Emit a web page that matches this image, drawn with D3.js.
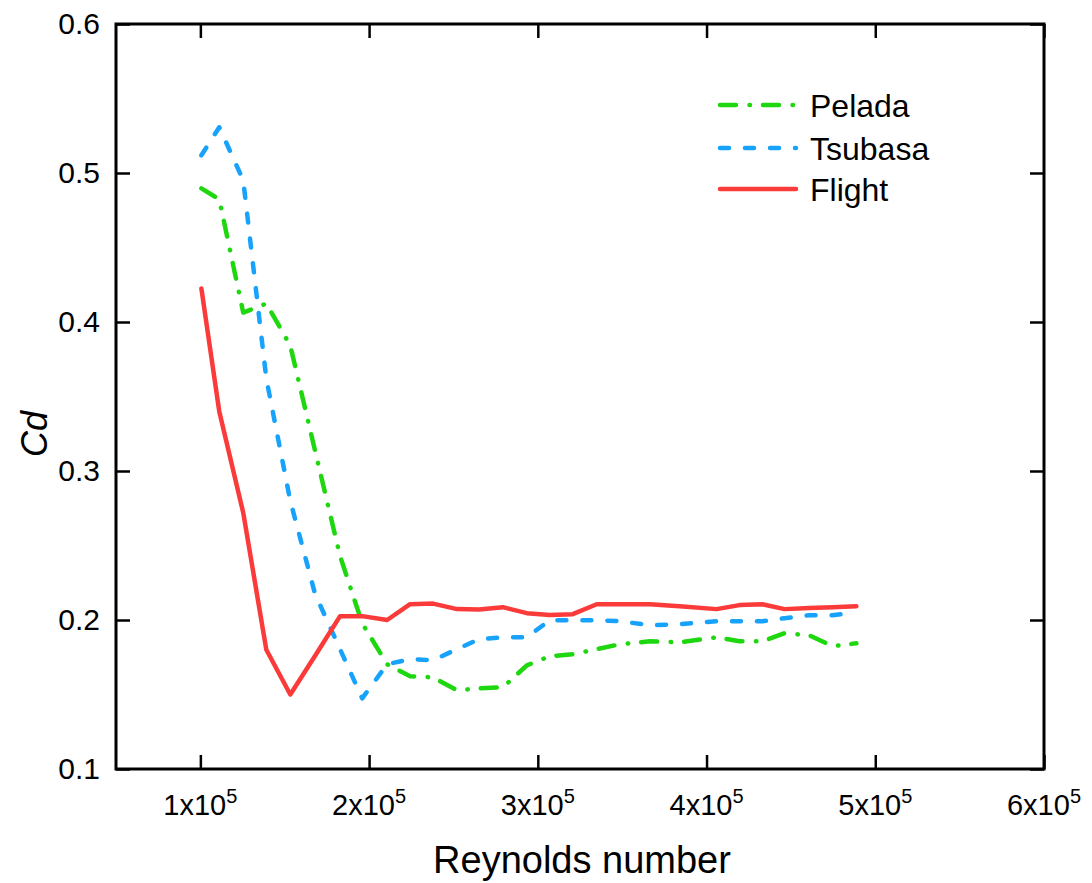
<!DOCTYPE html>
<html>
<head>
<meta charset="utf-8">
<script src="https://cdn.jsdelivr.net/npm/d3@7"></script>
<style>
  html, body { margin: 0; padding: 0; background: #fff; }
  svg { display: block; }
</style>
</head>
<body>
<svg id="chart" width="1092" height="883"></svg>
<script>
// ---- data ----
const reynolds = [100600, 111200, 125400, 139100, 153300, 168000, 182800, 195900, 210700, 224300,
  237900, 252100, 265100, 279300, 293500, 307100, 320700, 334900, 348500, 366300,
  384000, 405900, 419500, 433100, 446200, 460900, 474600, 488800];
const pelada = [0.4897, 0.4823, 0.4063, 0.4124, 0.3841, 0.3135, 0.2429, 0.1978, 0.1703, 0.1622,
  0.1615, 0.1528, 0.1541, 0.1548, 0.1696, 0.1757, 0.1770, 0.1804, 0.1837, 0.1857,
  0.1850, 0.1884, 0.1857, 0.1857, 0.1911, 0.1897, 0.1824, 0.1844];
const tsubasa = [0.5119, 0.5307, 0.4951, 0.3619, 0.2799, 0.2174, 0.1804, 0.1474, 0.1703, 0.1737,
  0.1730, 0.1804, 0.1871, 0.1884, 0.1884, 0.1999, 0.1999, 0.1999, 0.1992, 0.1965,
  0.1972, 0.1992, 0.1992, 0.1992, 0.2012, 0.2032, 0.2032, 0.2052];
const flight = [0.4225, 0.3400, 0.2720, 0.1800, 0.1500, 0.1760, 0.2026, 0.2026, 0.2000, 0.2106,
  0.2110, 0.2073, 0.2070, 0.2086, 0.2046, 0.2033, 0.2039, 0.2106, 0.2106, 0.2106,
  0.2093, 0.2073, 0.2100, 0.2106, 0.2073, 0.2080, 0.2086, 0.2093];
const seriesNames = ["Pelada", "Tsubasa", "Flight"];
const xTicks = [1e5, 2e5, 3e5, 4e5, 5e5, 6e5];
const yTicks = [0.1, 0.2, 0.3, 0.4, 0.5, 0.6];
const xDomain = [0.5e5, 6e5];
const yDomain = [0.1, 0.6];

// ---- layout ----
const svg = d3.select("#chart");
const L = 116, R = 1044, T = 24, B = 769;
const x = d3.scaleLinear().domain(xDomain).range([L, R]);
const y = d3.scaleLinear().domain(yDomain).range([B, T]);
const font = "'Liberation Sans', Arial, sans-serif";

const styles = {
  Pelada: { color: "#1fd70f", dash: "16,13.5,0.5,13", width: 4.5 },
  Tsubasa: { color: "#17a2fb", dash: "9,16", width: 4.5 },
  Flight: { color: "#fb3a3a", dash: null, width: 4.5 }
};
const data = { Pelada: pelada, Tsubasa: tsubasa, Flight: flight };

// series lines
const line = d3.line().x(d => x(d[0])).y(d => y(d[1]));
seriesNames.forEach(name => {
  const st = styles[name];
  const pts = reynolds.map((r, i) => [r, data[name][i]]);
  svg.append("path")
    .attr("d", line(pts))
    .attr("fill", "none")
    .attr("stroke", st.color)
    .attr("stroke-width", st.width)
    .attr("stroke-linecap", "round")
    .attr("stroke-linejoin", "round")
    .attr("stroke-dasharray", st.dash);
});

// frame
svg.append("rect").attr("x", L).attr("y", T).attr("width", R - L).attr("height", B - T)
  .attr("fill", "none").attr("stroke", "#000").attr("stroke-width", 3);

// axes (inward ticks)
const tickLen = 14;
const xAxisB = d3.axisBottom(x).tickValues(xTicks).tickSize(-tickLen).tickFormat("");
const gxb = svg.append("g").attr("transform", `translate(0,${B})`).call(xAxisB);
const xAxisT = d3.axisTop(x).tickValues(xTicks).tickSize(-tickLen).tickFormat("");
const gxt = svg.append("g").attr("transform", `translate(0,${T})`).call(xAxisT);
const yAxisL = d3.axisLeft(y).tickValues(yTicks).tickSize(-tickLen).tickFormat("");
const gyl = svg.append("g").attr("transform", `translate(${L},0)`).call(yAxisL);
const yAxisR = d3.axisRight(y).tickValues(yTicks).tickSize(-tickLen).tickFormat("");
const gyr = svg.append("g").attr("transform", `translate(${R},0)`).call(yAxisR);
[gxb, gxt, gyl, gyr].forEach(g => {
  g.select(".domain").remove();
  g.selectAll(".tick line").attr("stroke", "#000").attr("stroke-width", 2.5);
});

// x tick labels
xTicks.forEach(v => {
  const t = svg.append("text")
    .attr("x", x(v)).attr("y", B + 46)
    .attr("text-anchor", "middle")
    .attr("font-family", font).attr("font-size", 29).attr("fill", "#000");
  t.append("tspan").text(`${Math.round(v / 1e5)}x10`);
  t.append("tspan").attr("dy", -12).attr("font-size", 20).text("5");
});

// y tick labels
yTicks.forEach(v => {
  svg.append("text")
    .attr("x", L - 16).attr("y", y(v) + 10)
    .attr("text-anchor", "end")
    .attr("font-family", font).attr("font-size", 30).attr("fill", "#000")
    .text(v.toFixed(1));
});

// axis titles
svg.append("text")
  .attr("x", 582).attr("y", 873)
  .attr("text-anchor", "middle")
  .attr("font-family", font).attr("font-size", 38).attr("fill", "#000")
  .text("Reynolds number");
svg.append("text")
  .attr("transform", `translate(47,434) rotate(-90)`)
  .attr("text-anchor", "middle")
  .attr("font-family", font).attr("font-size", 36).attr("font-style", "italic").attr("fill", "#000")
  .text("Cd");

// legend
const legY = [105, 148, 189];
seriesNames.forEach((name, i) => {
  const st = styles[name];
  svg.append("line")
    .attr("x1", 720).attr("x2", 796).attr("y1", legY[i]).attr("y2", legY[i])
    .attr("stroke", st.color).attr("stroke-width", st.width)
    .attr("stroke-linecap", "round")
    .attr("stroke-dasharray", st.dash);
  svg.append("text")
    .attr("x", 810).attr("y", legY[i] + 12)
    .attr("font-family", font)
    .attr("font-size", 32).attr("fill", "#000")
    .text(name);
});
</script>
</body>
</html>
